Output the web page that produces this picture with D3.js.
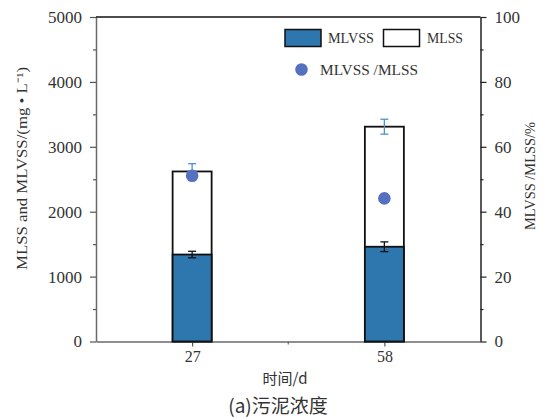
<!DOCTYPE html>
<html>
<head>
<meta charset="utf-8">
<script src="https://cdn.jsdelivr.net/npm/d3@7"></script>
<style>
  body { margin: 0; background: #fff; }
  svg { display: block; }
</style>
</head>
<body>
<svg id="chart" width="545" height="418"></svg>
<script>
// Sludge concentration: MLVSS stacked in front of MLSS, with MLVSS/MLSS ratio on the right axis
const days = ["27", "58"];
const mlvss = [1340, 1460];
const mlvssErr = [50, 75];
const mlss = [2620, 3310];
const mlssErr = [120, 115];
const ratio = [51.1, 44.1];
const leftTicks = [0, 1000, 2000, 3000, 4000, 5000];
const rightTicks = [0, 20, 40, 60, 80, 100];

const svg = d3.select("#chart");
const M = { left: 96, right: 480.5, top: 17, bottom: 341.5 };
const latin = "'Liberation Serif', serif";
const cjk = "'Noto Sans CJK SC', sans-serif";

const x = d3.scalePoint().domain(days).range([M.left, M.right]).padding(0.5);
const y = d3.scaleLinear().domain([0, 5000]).range([M.bottom, M.top]);
const y2 = d3.scaleLinear().domain([0, 100]).range([M.bottom, M.top]);

const barW = 39;
const barColor = "#2e76ae";
const dotColor = "#5670c0";
const errBlue = "#4d92c8";
const fmt = d3.format("d");

// Axes
const gLeft = svg.append("g").attr("transform", `translate(${M.left},0)`)
  .call(d3.axisLeft(y).tickValues(leftTicks).tickFormat(fmt).tickSize(6).tickSizeOuter(0).tickPadding(8));
const gLeftMinor = svg.append("g").attr("transform", `translate(${M.left},0)`)
  .call(d3.axisLeft(y).tickValues(d3.range(500, 5000, 1000)).tickSize(3).tickSizeOuter(0).tickFormat(""));
const gRight = svg.append("g").attr("transform", `translate(${M.right},0)`)
  .call(d3.axisRight(y2).tickValues(rightTicks).tickFormat(fmt).tickSize(6).tickSizeOuter(0).tickPadding(8));
const gRightMinor = svg.append("g").attr("transform", `translate(${M.right},0)`)
  .call(d3.axisRight(y2).tickValues(d3.range(10, 100, 20)).tickSize(3).tickSizeOuter(0).tickFormat(""));
const gBottom = svg.append("g").attr("transform", `translate(0,${M.bottom})`)
  .call(d3.axisBottom(x).tickSize(5).tickSizeOuter(0).tickPadding(4));

// minor tick halfway between the two sampling days
svg.append("line")
  .attr("x1", (x(days[0]) + x(days[1])) / 2).attr("x2", (x(days[0]) + x(days[1])) / 2)
  .attr("y1", M.bottom).attr("y2", M.bottom + 3)
  .attr("stroke", "#666").attr("stroke-width", 1.2);

[gLeft, gLeftMinor, gBottom].forEach(g => {
  g.selectAll(".domain").attr("stroke", "#6a6a6a").attr("stroke-width", 1.5);
  g.selectAll(".tick line").attr("stroke", "#555").attr("stroke-width", 1.2);
});
[gRight, gRightMinor].forEach(g => {
  g.selectAll(".domain").attr("stroke", "#222").attr("stroke-width", 1.5);
  g.selectAll(".tick line").attr("stroke", "#222").attr("stroke-width", 1.2);
});
gLeftMinor.select(".domain").remove();
gRightMinor.select(".domain").remove();

[gLeft, gRight, gBottom].forEach(g => g.attr("font-family", latin));
[gLeft, gRight].forEach(g => g.selectAll(".tick text")
  .attr("font-family", latin).attr("font-size", 17).attr("fill", "#333"));
gBottom.selectAll(".tick text")
  .attr("font-family", latin).attr("font-size", 16).attr("fill", "#333");

// top frame line
svg.append("line")
  .attr("x1", M.left).attr("x2", M.right).attr("y1", M.top).attr("y2", M.top)
  .attr("stroke", "#111").attr("stroke-width", 1.5);

// MLSS bars (white) behind, MLVSS bars (blue) in front
const plot = svg.append("g");
plot.selectAll("rect.mlss").data(days).join("rect")
  .attr("class", "mlss")
  .attr("x", d => x(d) - barW / 2).attr("width", barW)
  .attr("y", (d, i) => y(mlss[i])).attr("height", (d, i) => y(0) - y(mlss[i]))
  .attr("fill", "#fff").attr("stroke", "#111").attr("stroke-width", 1.8);
plot.selectAll("rect.mlvss").data(days).join("rect")
  .attr("class", "mlvss")
  .attr("x", d => x(d) - barW / 2).attr("width", barW)
  .attr("y", (d, i) => y(mlvss[i])).attr("height", (d, i) => y(0) - y(mlvss[i]))
  .attr("fill", barColor).attr("stroke", "#111").attr("stroke-width", 1.8);

// error bars
function errorBars(vals, errs, color, cls) {
  const g = plot.append("g").attr("class", cls)
    .attr("stroke", color).attr("stroke-width", 1.3).attr("fill", "none");
  days.forEach((d, i) => {
    const cx = x(d), cap = 4;
    const top = y(vals[i] + errs[i]), bot = y(vals[i] - errs[i]);
    g.append("line").attr("x1", cx).attr("x2", cx).attr("y1", top).attr("y2", bot);
    g.append("line").attr("x1", cx - cap).attr("x2", cx + cap).attr("y1", top).attr("y2", top);
    g.append("line").attr("x1", cx - cap).attr("x2", cx + cap).attr("y1", bot).attr("y2", bot);
  });
}
errorBars(mlss, mlssErr, errBlue, "err-mlss");
errorBars(mlvss, mlvssErr, "#111", "err-mlvss");

// ratio points
plot.selectAll("circle.ratio").data(days).join("circle")
  .attr("class", "ratio")
  .attr("cx", d => x(d)).attr("cy", (d, i) => y2(ratio[i]))
  .attr("r", 6.3).attr("fill", dotColor);

// legend
const lg = svg.append("g");
lg.append("rect").attr("x", 285).attr("y", 29.5).attr("width", 36).attr("height", 17)
  .attr("fill", barColor).attr("stroke", "#111").attr("stroke-width", 1.5);
lg.append("text").attr("x", 328).attr("y", 43).text("MLVSS")
  .attr("font-family", latin).attr("font-size", 15).attr("fill", "#333")
  .attr("textLength", 46).attr("lengthAdjust", "spacingAndGlyphs");
lg.append("rect").attr("x", 383.5).attr("y", 29.5).attr("width", 36).attr("height", 17)
  .attr("fill", "#fff").attr("stroke", "#111").attr("stroke-width", 1.5);
lg.append("text").attr("x", 427).attr("y", 43).text("MLSS")
  .attr("font-family", latin).attr("font-size", 15).attr("fill", "#333")
  .attr("textLength", 36).attr("lengthAdjust", "spacingAndGlyphs");
lg.append("circle").attr("cx", 301.5).attr("cy", 69.5).attr("r", 6.3).attr("fill", dotColor);
lg.append("text").attr("x", 320).attr("y", 75).text("MLVSS /MLSS")
  .attr("font-family", latin).attr("font-size", 15).attr("fill", "#333")
  .attr("textLength", 98).attr("lengthAdjust", "spacingAndGlyphs");

// axis titles
svg.append("text")
  .attr("transform", "translate(27,168.5) rotate(-90)")
  .attr("text-anchor", "middle")
  .attr("font-family", latin).attr("font-size", 15).attr("fill", "#333")
  .attr("textLength", 203).attr("lengthAdjust", "spacingAndGlyphs")
  .text("MLSS and MLVSS/(mg • L⁻¹)");
svg.append("text")
  .attr("transform", "translate(535,176) rotate(-90)")
  .attr("text-anchor", "middle")
  .attr("font-family", latin).attr("font-size", 15).attr("fill", "#333")
  .attr("textLength", 108).attr("lengthAdjust", "spacingAndGlyphs")
  .text("MLVSS /MLSS/%");
svg.append("text")
  .attr("x", 285).attr("y", 384).attr("text-anchor", "middle")
  .attr("font-family", cjk).attr("font-size", 15).attr("fill", "#333")
  .text("时间/d");
svg.append("text")
  .attr("x", 278).attr("y", 413).attr("text-anchor", "middle")
  .attr("font-family", cjk).attr("font-size", 19).attr("fill", "#333")
  .text("(a)污泥浓度");
</script>
</body>
</html>
